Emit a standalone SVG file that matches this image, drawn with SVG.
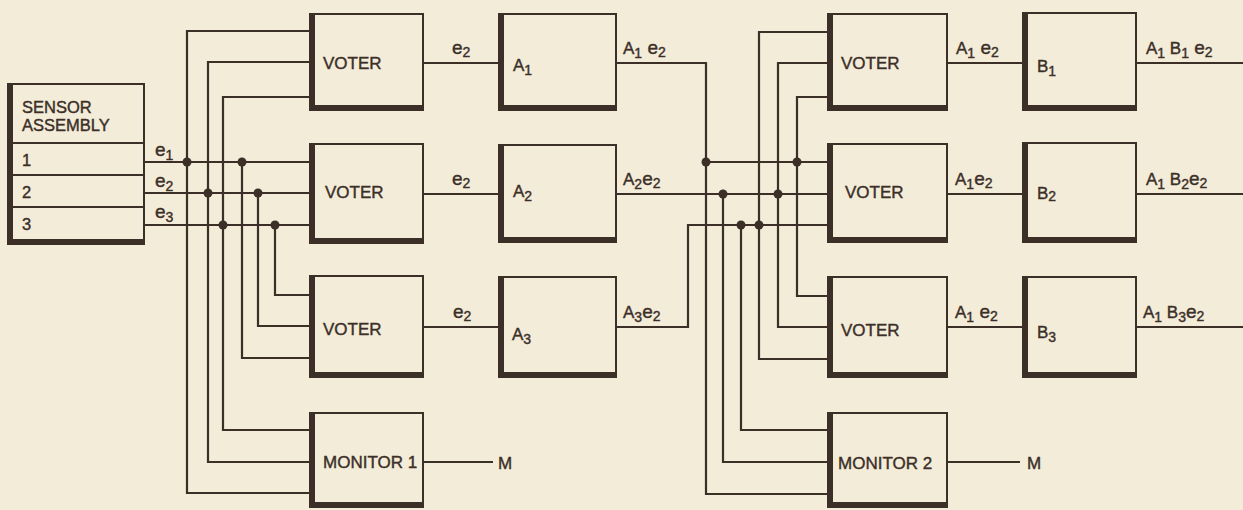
<svg xmlns="http://www.w3.org/2000/svg" width="1243" height="510" viewBox="0 0 1243 510">
<style>
  .bg { fill: #f3ecd9; }
  .node rect { fill: none; stroke: #3b2f28; stroke-width: 2; }
  .node .thick { fill: none; stroke: #3b2f28; stroke-width: 5; }
  .node line { stroke: #3b2f28; stroke-width: 2; }
  #connectors path, #connectors line { fill: none; stroke: #3b2f28; stroke-width: 2.2; }
  #connectors circle { fill: #3b2f28; }
  text { font-family: "Liberation Sans", Arial, sans-serif; font-size: 17px; fill: #3b2f28; stroke: #3b2f28; stroke-width: 0.4; }
  .small { font-size: 16.5px; }
  .sub { font-size: 14px; }
  .e { font-size: 19px; }
</style>
<rect class="bg" x="0" y="0" width="1243" height="510"/>

<g id="connectors">
  <!-- sensor outputs -->
  <line x1="144" y1="162" x2="310" y2="162"/>
  <line x1="144" y1="193" x2="310" y2="193"/>
  <line x1="144" y1="225" x2="310" y2="225"/>
  <path d="M310,31 H187 V493 H310"/>
  <path d="M310,62 H208 V462 H310"/>
  <path d="M310,97 H223 V430 H310"/>
  <path d="M242,162 V358 H310"/>
  <path d="M258,193 V326 H310"/>
  <path d="M275,225 V295 H310"/>
  <circle cx="187" cy="162" r="4.5"/>
  <circle cx="208" cy="193" r="4.5"/>
  <circle cx="223" cy="225" r="4.5"/>
  <circle cx="242" cy="162" r="4.5"/>
  <circle cx="258" cy="193" r="4.5"/>
  <circle cx="275" cy="225" r="4.5"/>
  <!-- voter to A -->
  <line x1="423" y1="63" x2="499" y2="63"/>
  <line x1="423" y1="194" x2="499" y2="194"/>
  <line x1="423" y1="327" x2="499" y2="327"/>
  <line x1="423" y1="462" x2="493" y2="462"/>
  <!-- A outputs -->
  <path d="M616,63 H706 V494 H828"/>
  <line x1="706" y1="162" x2="828" y2="162"/>
  <line x1="616" y1="194" x2="828" y2="194"/>
  <path d="M616,327 H688 V225 H828"/>
  <path d="M723,194 V462 H828"/>
  <path d="M741,225 V430 H828"/>
  <path d="M828,32 H759 V359 H828"/>
  <path d="M828,63 H778 V327 H828"/>
  <path d="M828,97 H797 V296 H828"/>
  <circle cx="706" cy="162" r="4.5"/>
  <circle cx="797" cy="162" r="4.5"/>
  <circle cx="723" cy="194" r="4.5"/>
  <circle cx="778" cy="194" r="4.5"/>
  <circle cx="741" cy="225" r="4.5"/>
  <circle cx="759" cy="225" r="4.5"/>
  <!-- voter to B -->
  <line x1="947" y1="63" x2="1023" y2="63"/>
  <line x1="947" y1="194" x2="1023" y2="194"/>
  <line x1="947" y1="327" x2="1023" y2="327"/>
  <line x1="947" y1="462" x2="1020" y2="462"/>
  <!-- B outputs -->
  <line x1="1136" y1="63" x2="1243" y2="63"/>
  <line x1="1136" y1="194" x2="1243" y2="194"/>
  <line x1="1136" y1="327" x2="1243" y2="327"/>
</g>

<g id="labels">
  <text class="e" x="155" y="156">e<tspan class="sub" dy="4">1</tspan></text>
  <text class="e" x="155" y="187">e<tspan class="sub" dy="4">2</tspan></text>
  <text class="e" x="155" y="218">e<tspan class="sub" dy="4">3</tspan></text>
  <text class="e" x="452" y="54">e<tspan class="sub" dy="3">2</tspan></text>
  <text class="e" x="452" y="185">e<tspan class="sub" dy="3">2</tspan></text>
  <text class="e" x="453" y="318">e<tspan class="sub" dy="3">2</tspan></text>
  <text x="498" y="469">M</text>
  <text x="623" y="54">A<tspan class="sub" dy="4">1</tspan><tspan class="e" dy="-4"> e</tspan><tspan class="sub" dy="3">2</tspan></text>
  <text x="623" y="185">A<tspan class="sub" dy="4">2</tspan><tspan class="e" dy="-4">e</tspan><tspan class="sub" dy="3">2</tspan></text>
  <text x="623" y="318">A<tspan class="sub" dy="4">3</tspan><tspan class="e" dy="-4">e</tspan><tspan class="sub" dy="3">2</tspan></text>
  <text x="956" y="54">A<tspan class="sub" dy="4">1</tspan><tspan class="e" dy="-4"> e</tspan><tspan class="sub" dy="3">2</tspan></text>
  <text x="955" y="185">A<tspan class="sub" dy="4">1</tspan><tspan class="e" dy="-4">e</tspan><tspan class="sub" dy="3">2</tspan></text>
  <text x="955" y="318">A<tspan class="sub" dy="4">1</tspan><tspan class="e" dy="-4"> e</tspan><tspan class="sub" dy="3">2</tspan></text>
  <text x="1027" y="469">M</text>
  <text x="1146" y="54">A<tspan class="sub" dy="4">1</tspan><tspan dy="-4"> B</tspan><tspan class="sub" dy="4">1</tspan><tspan class="e" dy="-4"> e</tspan><tspan class="sub" dy="3">2</tspan></text>
  <text x="1146" y="185">A<tspan class="sub" dy="4">1</tspan><tspan dy="-4"> B</tspan><tspan class="sub" dy="4">2</tspan><tspan class="e" dy="-4">e</tspan><tspan class="sub" dy="3">2</tspan></text>
  <text x="1143" y="318">A<tspan class="sub" dy="4">1</tspan><tspan dy="-4"> B</tspan><tspan class="sub" dy="4">3</tspan><tspan class="e" dy="-4">e</tspan><tspan class="sub" dy="3">2</tspan></text>
</g>

<g id="sensor-assembly" class="node">
  <rect x="8" y="84" width="136" height="160"/>
  <path class="thick" d="M10.5,84 V241.5 H144"/>
  <line x1="8" y1="143" x2="144" y2="143"/>
  <line x1="8" y1="175" x2="144" y2="175"/>
  <line x1="8" y1="207" x2="144" y2="207"/>
  <text class="small" x="22" y="113">SENSOR</text>
  <text class="small" x="22" y="131">ASSEMBLY</text>
  <text class="small" x="22" y="166">1</text>
  <text class="small" x="22" y="198">2</text>
  <text class="small" x="22" y="230">3</text>
</g>

<g id="voter-1" class="node">
  <rect x="310" y="14" width="113" height="96"/>
  <path class="thick" d="M312.5,14 V107.5 H423"/>
  <text x="323" y="69">VOTER</text>
</g>
<g id="voter-2" class="node">
  <rect x="310" y="144" width="113" height="99"/>
  <path class="thick" d="M312.5,144 V240.5 H423"/>
  <text x="325" y="198">VOTER</text>
</g>
<g id="voter-3" class="node">
  <rect x="310" y="276" width="113" height="101"/>
  <path class="thick" d="M312.5,276 V374.5 H423"/>
  <text x="323" y="335">VOTER</text>
</g>
<g id="monitor-1" class="node">
  <rect x="310" y="413" width="113" height="94"/>
  <path class="thick" d="M312.5,413 V504.5 H423"/>
  <text x="323" y="468">MONITOR 1</text>
</g>

<g id="a1" class="node">
  <rect x="499" y="14" width="117" height="96"/>
  <path class="thick" d="M501.5,14 V107.5 H616"/>
  <text x="513" y="71">A<tspan class="sub" dy="4">1</tspan></text>
</g>
<g id="a2" class="node">
  <rect x="499" y="145" width="117" height="97"/>
  <path class="thick" d="M501.5,145 V239.5 H616"/>
  <text x="513" y="197">A<tspan class="sub" dy="4">2</tspan></text>
</g>
<g id="a3" class="node">
  <rect x="499" y="277" width="117" height="100"/>
  <path class="thick" d="M501.5,277 V374.5 H616"/>
  <text x="512" y="340">A<tspan class="sub" dy="4">3</tspan></text>
</g>

<g id="voter-b1" class="node">
  <rect x="828" y="14" width="119" height="96"/>
  <path class="thick" d="M830.5,14 V107.5 H947"/>
  <text x="841" y="69">VOTER</text>
</g>
<g id="voter-b2" class="node">
  <rect x="828" y="144" width="119" height="98"/>
  <path class="thick" d="M830.5,144 V239.5 H947"/>
  <text x="845" y="198">VOTER</text>
</g>
<g id="voter-b3" class="node">
  <rect x="828" y="277" width="119" height="100"/>
  <path class="thick" d="M830.5,277 V374.5 H947"/>
  <text x="841" y="336">VOTER</text>
</g>
<g id="monitor-2" class="node">
  <rect x="828" y="413" width="119" height="94"/>
  <path class="thick" d="M830.5,413 V504.5 H947"/>
  <text x="838" y="469">MONITOR 2</text>
</g>

<g id="b1" class="node">
  <rect x="1023" y="13" width="113" height="97"/>
  <path class="thick" d="M1025.5,13 V107.5 H1136"/>
  <text x="1037" y="72">B<tspan class="sub" dy="4">1</tspan></text>
</g>
<g id="b2" class="node">
  <rect x="1023" y="143" width="113" height="99"/>
  <path class="thick" d="M1025.5,143 V239.5 H1136"/>
  <text x="1037" y="199">B<tspan class="sub" dy="2">2</tspan></text>
</g>
<g id="b3" class="node">
  <rect x="1023" y="277" width="113" height="100"/>
  <path class="thick" d="M1025.5,277 V374.5 H1136"/>
  <text x="1037" y="338">B<tspan class="sub" dy="4">3</tspan></text>
</g>
</svg>
